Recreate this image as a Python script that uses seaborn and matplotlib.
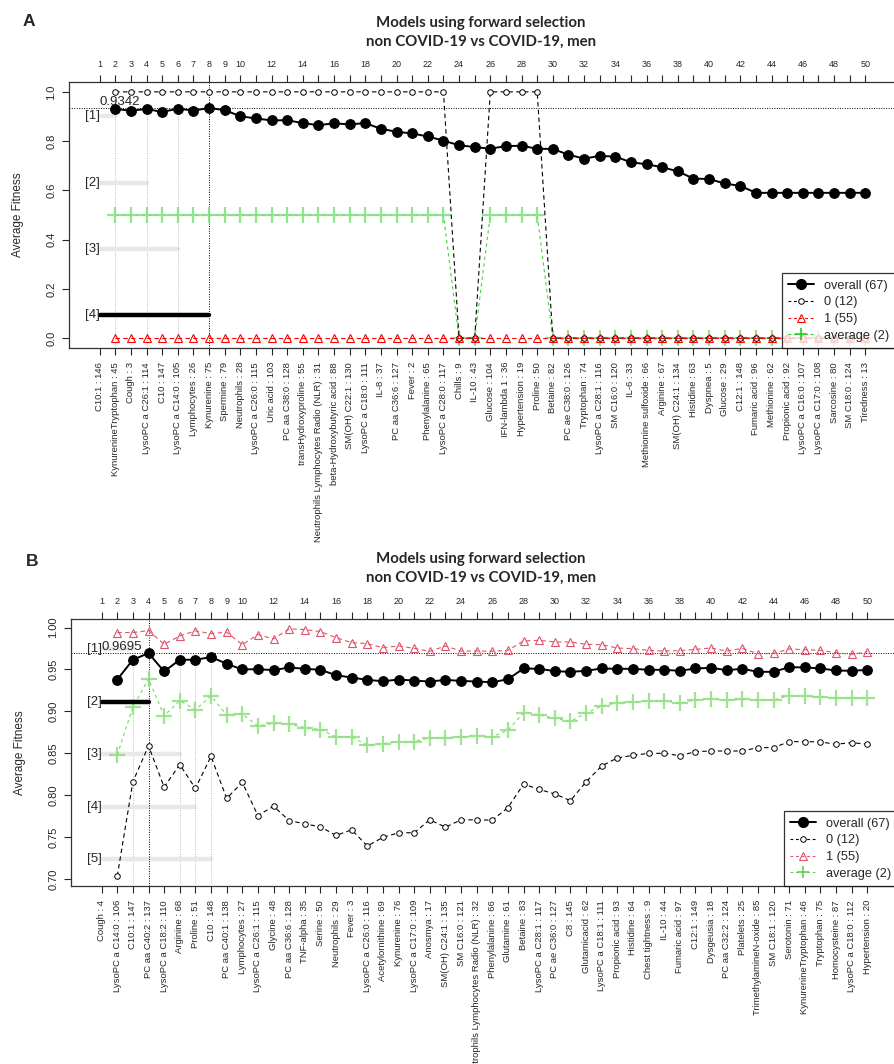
import numpy as np
import matplotlib
matplotlib.use('Agg')
import matplotlib.pyplot as plt
import seaborn as sns
from matplotlib.lines import Line2D

sns.set_style('white')
plt.rcParams['font.family'] = ['Liberation Sans', 'DejaVu Sans']

# ---------------- data ----------------
steps = list(range(1, 51))

labels_A = ["C10:1 : 146", "KynurenineTryptophan : 45", "Cough : 3", "LysoPC a C26:1 : 114",
            "C10 : 147", "LysoPC a C14:0 : 105", "Lymphocytes : 26", "Kynurenine : 75",
            "Spermine : 79", "Neutrophils : 28", "LysoPC a C26:0 : 115", "Uric acid : 103",
            "PC aa C38:0 : 128", "transHydroxyproline : 55",
            "Neutrophils Lymphocytes Radio (NLR) : 31", "beta-Hydroxybutyric acid : 88",
            "SM(OH) C22:1 : 130", "LysoPC a C18:0 : 111", "IL-8 : 37", "PC aa C36:6 : 127",
            "Fever : 2", "Phenylalanine : 65", "LysoPC a C28:0 : 117", "Chills : 9",
            "IL-10 : 43", "Glucose : 104", "IFN-lambda 1 : 36", "Hypertension : 19",
            "Proline : 50", "Betaine : 82", "PC ae C38:0 : 126", "Tryptophan : 74",
            "LysoPC a C28:1 : 116", "SM C16:0 : 120", "IL-6 : 33", "Methionine sulfoxide : 66",
            "Arginine : 67", "SM(OH) C24:1 : 134", "Histidine : 63", "Dyspnea : 5",
            "Glucose : 29", "C12:1 : 148", "Fumaric acid : 96", "Methionine : 62",
            "Propionic acid : 92", "LysoPC a C16:0 : 107", "LysoPC a C17:0 : 108",
            "Sarcosine : 80", "SM C18:0 : 124", "Tiredness : 13"]

labels_B = ["Cough : 4", "LysoPC a C14:0 : 106", "C10:1 : 147", "PC aa C40:2 : 137",
            "LysoPC a C18:2 : 110", "Arginine : 68", "Proline : 51", "C10 : 148",
            "PC aa C40:1 : 138", "Lymphocytes : 27", "LysoPC a C26:1 : 115", "Glycine : 48",
            "PC aa C36:6 : 128", "TNF-alpha : 35", "Serine : 50", "Neutrophils : 29",
            "Fever : 3", "LysoPC a C26:0 : 116", "Acetylornithine : 69", "Kynurenine : 76",
            "LysoPC a C17:0 : 109", "Anosmya : 17", "SM(OH) C24:1 : 135", "SM C16:0 : 121",
            "Neutrophils Lymphocytes Radio (NLR) : 32", "Phenylalanine : 66", "Glutamine : 61",
            "Betaine : 83", "LysoPC a C28:1 : 117", "PC ae C36:0 : 127", "C8 : 145",
            "Glutamicacid : 62", "LysoPC a C18:1 : 111", "Propionic acid : 93",
            "Histidine : 64", "Chest tightness : 9", "IL-10 : 44", "Fumaric acid : 97",
            "C12:1 : 149", "Dysgeusia : 18", "PC aa C32:2 : 124", "Platelets : 25",
            "TrimethylamineN-oxide : 85", "SM C18:1 : 120", "Serotonin : 71",
            "KynurenineTryptophan : 46", "Tryptophan : 75", "Homocysteine : 87",
            "LysoPC a C18:0 : 112", "Hypertension : 20"]

# values for steps 2..50
overall_A = [0.931, 0.923, 0.931, 0.918, 0.932, 0.924, 0.9342, 0.926,
             0.901, 0.892, 0.884, 0.885, 0.873, 0.865, 0.872, 0.868, 0.873, 0.850,
             0.838, 0.831, 0.819, 0.802,
             0.783, 0.776, 0.769, 0.780, 0.781, 0.769, 0.768,
             0.745, 0.729, 0.740, 0.737, 0.714, 0.706, 0.694, 0.677, 0.648, 0.646,
             0.628, 0.618,
             0.590, 0.590, 0.590, 0.590, 0.590, 0.590, 0.590, 0.590]
group0_A = [1, 1, 1, 1, 1, 1, 1, 1, 1, 1, 1, 1, 1, 1, 1, 1, 1, 1, 1, 1, 1, 1,
            0, 0, 1, 1, 1, 1,
            0, 0, 0, 0, 0, 0, 0, 0, 0, 0, 0, 0, 0, 0, 0, 0, 0, 0, 0, 0, 0]
group1_A = [0, 0, 0, 0, 0, 0, 0, 0, 0, 0, 0, 0, 0, 0, 0, 0, 0, 0, 0, 0, 0, 0,
            0, 0, 0, 0, 0, 0,
            0, 0, 0, 0, 0, 0, 0, 0, 0, 0, 0, 0, 0, 0, 0, 0, 0, 0, 0, 0, 0]
average_A = [0.5, 0.5, 0.5, 0.5, 0.5, 0.5, 0.5, 0.5, 0.5, 0.5, 0.5, 0.5, 0.5, 0.5,
             0.5, 0.5, 0.5, 0.5, 0.5, 0.5, 0.5, 0.5,
             0, 0, 0.5, 0.5, 0.5, 0.5,
             0, 0, 0, 0, 0, 0, 0, 0, 0, 0, 0, 0, 0, 0, 0, 0, 0, 0, 0, 0, 0]

overall_B = [0.938, 0.9616, 0.9695, 0.9476, 0.9616, 0.9616, 0.9648, 0.9568,
             0.950, 0.9504, 0.9492, 0.9524, 0.9508, 0.9496, 0.9432, 0.9404, 0.9376, 0.936,
             0.938, 0.9368, 0.9356, 0.9376, 0.9364, 0.9356, 0.9348, 0.9384, 0.9512, 0.9508,
             0.948, 0.9472, 0.9484, 0.9512, 0.9508, 0.9508, 0.9496, 0.9496, 0.9484, 0.9512,
             0.952, 0.9492, 0.9508, 0.9472, 0.9472, 0.9528, 0.9524, 0.9512, 0.9488, 0.9484, 0.9496]
group0_B = [0.7036, 0.8161, 0.859, 0.8097, 0.8366, 0.8082, 0.8464, 0.7963,
            0.8153, 0.7758, 0.7869, 0.7699, 0.7659, 0.7624, 0.7521, 0.7588, 0.7395, 0.7498,
            0.7553, 0.7553, 0.7707, 0.762, 0.7707, 0.7707, 0.7703, 0.7853, 0.8133, 0.807,
            0.8015, 0.7936, 0.816, 0.835, 0.8445, 0.8476, 0.85, 0.85, 0.8472, 0.852,
            0.8528, 0.8528, 0.8528, 0.8568, 0.8568, 0.864, 0.864, 0.8636, 0.8608, 0.8628, 0.8608]
group1_B = [0.994, 0.994, 0.9964, 0.980, 0.990, 0.996, 0.9928, 0.9944,
            0.9796, 0.9916, 0.9864, 0.9984, 0.9976, 0.9952, 0.988, 0.982, 0.9808, 0.976,
            0.978, 0.9752, 0.9716, 0.978, 0.972, 0.972, 0.9716, 0.9728, 0.984, 0.9848,
            0.9828, 0.9828, 0.980, 0.9796, 0.9756, 0.9748, 0.9728, 0.972, 0.9724, 0.974,
            0.9756, 0.972, 0.9752, 0.9688, 0.9692, 0.9744, 0.9736, 0.9728, 0.970, 0.968, 0.9712]
average_B = [0.848, 0.9052, 0.9388, 0.8948, 0.9128, 0.902, 0.9184, 0.8956,
             0.8968, 0.8828, 0.8856, 0.8848, 0.8808, 0.8784, 0.8696, 0.8696, 0.860, 0.8616,
             0.864, 0.864, 0.8688, 0.8688, 0.8696, 0.8708, 0.870, 0.8776, 0.8984, 0.896,
             0.8916, 0.888, 0.898, 0.9064, 0.9104, 0.9116, 0.9124, 0.9124, 0.9096, 0.914,
             0.9148, 0.9136, 0.9144, 0.9136, 0.9136, 0.9188, 0.918, 0.9176, 0.9156, 0.9156, 0.916]

# candidate model sizes marked with [k]
sizes_A = [2, 4, 6, 8]
sizes_B = [3, 4, 6, 7, 8]

legend_labels = ["overall (67)", "0 (12)", "1 (55)", "average (2)"]
title_lines = "Models using forward selection\nnon COVID-19 vs COVID-19, men"

# ---------------- drawing ----------------
W, H = 894, 1064
fig = plt.figure(figsize=(W / 100, H / 100), dpi=100)


def px_axes(left, top, right, bottom):
    return fig.add_axes([left / W, 1 - bottom / H, (right - left) / W, (bottom - top) / H])


def panel(ax, labels, overall, g0, g1, avg, sizes, ylim, yticks, yfmt,
          col1, colavg, colavg_mk, mark_top, mark_bottom):
    x = steps[1:]
    sns.lineplot(x=x, y=overall, ax=ax, color='black', lw=1.4, marker='o',
                 markersize=7, markeredgecolor='black', zorder=6, errorbar=None)
    sns.lineplot(x=x, y=g0, ax=ax, color='black', lw=0.8, linestyle=(0, (4, 3)),
                 marker='o', markersize=4, markerfacecolor='white',
                 markeredgecolor='black', markeredgewidth=0.7, zorder=4, errorbar=None)
    sns.lineplot(x=x, y=g1, ax=ax, color=col1, lw=0.8, linestyle=(0, (4, 3)),
                 marker='^', markersize=6, markerfacecolor='none',
                 markeredgecolor=col1, markeredgewidth=0.8, zorder=5, errorbar=None)
    sns.lineplot(x=x, y=avg, ax=ax, color=colavg, lw=0.8, linestyle=(0, (3, 3)),
                 marker='+', markersize=11.3, markeredgecolor=colavg_mk,
                 markeredgewidth=1.6, alpha=0.85, zorder=3, errorbar=None)

    ax.set_xlim(-0.96, 51.96)
    ax.set_ylim(*ylim)

    best_i = int(np.argmax(overall))
    best_x = x[best_i]
    best_v = overall[best_i]
    ax.axhline(best_v, color='black', lw=0.7, linestyle=(0, (1, 1.5)), zorder=2)
    ax.axvline(best_x, color='black', lw=0.7, linestyle=(0, (1, 1.5)), zorder=2)
    ax.text(1, best_v, f"{best_v:.4f}", ha='left', va='bottom', fontsize=9.5, zorder=7)

    ypos = np.linspace(mark_top, mark_bottom, len(sizes))
    for k, (s, yp) in enumerate(zip(sizes, ypos)):
        best = (s == best_x)
        ax.plot([1, s], [yp, yp], color='black' if best else '#E8E8E8',
                lw=3.2, solid_capstyle='round', zorder=3 if best else 1)
        ax.text(1, yp, f"[{k + 1}]", ha='right', va='center', fontsize=9.5, zorder=7)
        if not best:
            ax.plot([s, s], [ylim[0], overall[x.index(s)]], color='#BBBBBB', lw=0.7,
                    linestyle=(0, (1, 1.5)), zorder=1)

    ax.set_xticks(steps)
    ax.set_xticklabels(labels, rotation=90, fontsize=6.8)
    ax.set_yticks(yticks)
    ax.set_yticklabels([yfmt.format(v) for v in yticks], rotation=90, va='center',
                       fontsize=8)
    ax.tick_params(axis='x', direction='out', length=5, width=0.8, pad=5, bottom=True)
    ax.tick_params(axis='y', direction='out', length=5, width=0.8, pad=4, left=True)
    ax.set_xlabel('')
    ax.set_ylabel('Average Fitness', fontsize=8.5)
    ax.yaxis.set_label_coords(-0.054, 0.5)
    for sp in ax.spines.values():
        sp.set_color('#333333')
        sp.set_linewidth(0.9)

    top = ax.secondary_xaxis('top')
    top.set_xticks(steps)
    top.set_xticklabels([str(s) if (s <= 10 or s % 2 == 0) else '' for s in steps],
                        fontsize=6.5)
    top.tick_params(direction='out', length=5, width=0.8, pad=4)
    top.spines['top'].set_visible(False)

    handles = [
        Line2D([], [], color='black', lw=1.4, marker='o', markersize=7),
        Line2D([], [], color='black', lw=0.8, linestyle=(0, (2.5, 2.5)), marker='o',
               markersize=4, markerfacecolor='white', markeredgewidth=0.7),
        Line2D([], [], color=col1, lw=0.8, linestyle=(0, (2.5, 2.5)), marker='^',
               markersize=6, markerfacecolor='none', markeredgewidth=0.8),
        Line2D([], [], color=colavg, lw=0.8, linestyle=(0, (2.5, 2.5)), marker='+',
               markersize=8, markeredgewidth=1.2),
    ]
    leg = ax.legend(handles, legend_labels, loc='lower right', fontsize=9.2,
                    frameon=True, fancybox=False, borderaxespad=0, handlelength=2.0,
                    labelspacing=0.36, borderpad=0.5, handletextpad=0.85)
    leg.get_frame().set_edgecolor('black')
    leg.get_frame().set_linewidth(0.9)
    leg.set_zorder(10)


axA = px_axes(69, 82, 896, 348)
panel(axA, labels_A, overall_A, group0_A, group1_A, average_A, sizes_A,
      (-0.04, 1.04), [0.0, 0.2, 0.4, 0.6, 0.8, 1.0], "{:.1f}",
      '#FF0000', '#22CC22', '#7FE07F', 0.9, 0.095)

axB = px_axes(71, 619, 898, 886)
panel(axB, labels_B, overall_B, group0_B, group1_B, average_B, sizes_B,
      (0.6918, 1.0102), [0.70, 0.75, 0.80, 0.85, 0.90, 0.95, 1.00], "{:.2f}",
      '#DF536B', '#61D04F', '#8FDF7F', 0.974, 0.7237)

for (xl, yc, letter) in [(22.5, 21, 'A'), (26, 561.5, 'B')]:
    fig.text(xl / W, 1 - yc / H, letter, fontsize=12.5, fontweight='bold',
             ha='left', va='center')
for yc in [32.5, 568.5]:
    fig.text(481 / W, 1 - yc / H, title_lines, fontsize=10.8, fontweight='bold',
             family=['Lato', 'DejaVu Sans'], ha='center', va='center', linespacing=1.4)

fig.savefig('out.png', dpi=100)
